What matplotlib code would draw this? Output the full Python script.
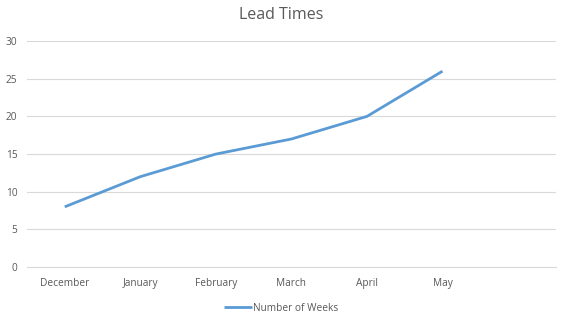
import matplotlib
matplotlib.use('Agg')
import matplotlib.pyplot as plt

months = ['December', 'January', 'February', 'March', 'April', 'May']
weeks = [8, 12, 15, 17, 20, 26]
yticks = [0, 5, 10, 15, 20, 25, 30]

plt.rcParams['font.family'] = ['Open Sans', 'DejaVu Sans']

fig = plt.figure(figsize=(5.62, 3.18), dpi=100)
ax = fig.add_axes([0.048, 0.160, 0.941, 0.711])

x = list(range(len(months)))
line, = ax.plot(x, weeks, color='#5B9BD5', lw=2.0, solid_capstyle='butt',
                label='Number of Weeks')

ax.set_xlim(-0.5, 6.5)
ax.set_ylim(0, 30)
ax.set_yticks(yticks)
ax.set_xticks(x)
ax.set_xticklabels(months)
ax.grid(axis='y', color='#D9D9D9', lw=0.8)
ax.set_axisbelow(True)
for s in ['top', 'right', 'left']:
    ax.spines[s].set_visible(False)
ax.spines['bottom'].set_color('#D9D9D9')
ax.tick_params(axis='both', length=0, labelsize=7.3, colors='#595959')
ax.tick_params(axis='x', pad=8)
ax.tick_params(axis='y', pad=7)

fig.text(0.5, 0.952, 'Lead Times', ha='center', va='center', fontsize=11.5, color='#595959')

fig.legend(handles=[line], loc='center', bbox_to_anchor=(0.5, 0.03), frameon=False,
           fontsize=7.3, labelcolor='#595959', handlelength=2.8, handletextpad=0.1)

fig.savefig('out.png', dpi=100)
